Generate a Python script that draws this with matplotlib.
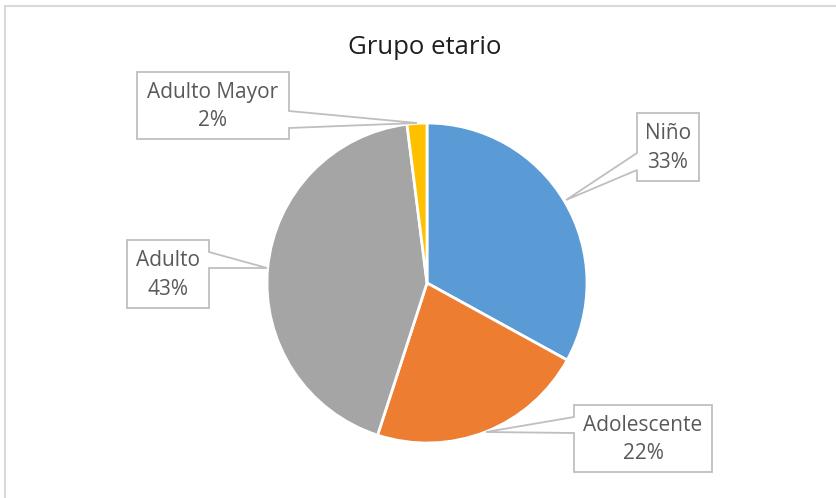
import matplotlib
matplotlib.use('Agg')
from matplotlib import pyplot as plt
from matplotlib.patches import Polygon, Rectangle

# datos del grafico
categorias = ['Niño', 'Adolescente', 'Adulto', 'Adulto Mayor']
porcentajes = [33, 22, 43, 2]
colores = ['#5B9BD5', '#ED7D31', '#A5A5A5', '#FFC000']
titulo = 'Grupo etario'

W, H = 837, 498
fig = plt.figure(figsize=(W / 100, H / 100), dpi=100)
ax = fig.add_axes([0, 0, 1, 1])
ax.set_xlim(0, W)
ax.set_ylim(0, H)
ax.set_aspect('equal')
ax.axis('off')


def py(y):
    # pixel (desde arriba) -> coordenada y
    return H - y


# marco del grafico
ax.add_patch(Rectangle((5, py(H + 10)), W + 10, H + 4, fill=False,
                       edgecolor='#D9D9D9', linewidth=1.5))

ax.pie(porcentajes, colors=colores, startangle=90, counterclock=False,
       center=(427, py(283)), radius=160,
       wedgeprops=dict(edgecolor='white', linewidth=2))
ax.set_xlim(0, W)
ax.set_ylim(0, H)

ax.text(425, py(47), titulo, ha='center', va='center', fontsize=18.5,
        family='Open Sans', color='#1F1F1F')

# callouts: caja (x0, y0, x1, y1), lado del puntero, y del puntero, punta
callouts = [
    ((637, 113, 699, 181), 'left', (153, 170), (566, 200)),
    ((574, 405, 712, 472), 'left', (417, 433), (486, 432)),
    ((127, 240, 209, 308), 'right', (252, 268), (267, 268)),
    ((137, 72, 289, 139), 'right', (111, 128), (417, 123)),
]

for (cat, pct), (box, lado, (ya, yb), tip) in zip(zip(categorias, porcentajes), callouts):
    x0, y0, x1, y1 = box
    if lado == 'right':
        pts = [(x0, y0), (x1, y0), (x1, ya), tip, (x1, yb), (x1, y1), (x0, y1)]
    else:
        pts = [(x0, y0), (x1, y0), (x1, y1), (x0, y1), (x0, yb), tip, (x0, ya)]
    pts = [(x, py(y)) for x, y in pts]
    ax.add_patch(Polygon(pts, closed=True, facecolor='white',
                         edgecolor='#BFBFBF', linewidth=1.3, zorder=5))
    ax.text((x0 + x1) / 2, py((y0 + y1) / 2 + 1), f'{cat}\n{pct}%',
            ha='center', va='center', fontsize=15, family='Open Sans',
            color='#595959', linespacing=1.45, zorder=6)

fig.savefig('out.png', dpi=100)
